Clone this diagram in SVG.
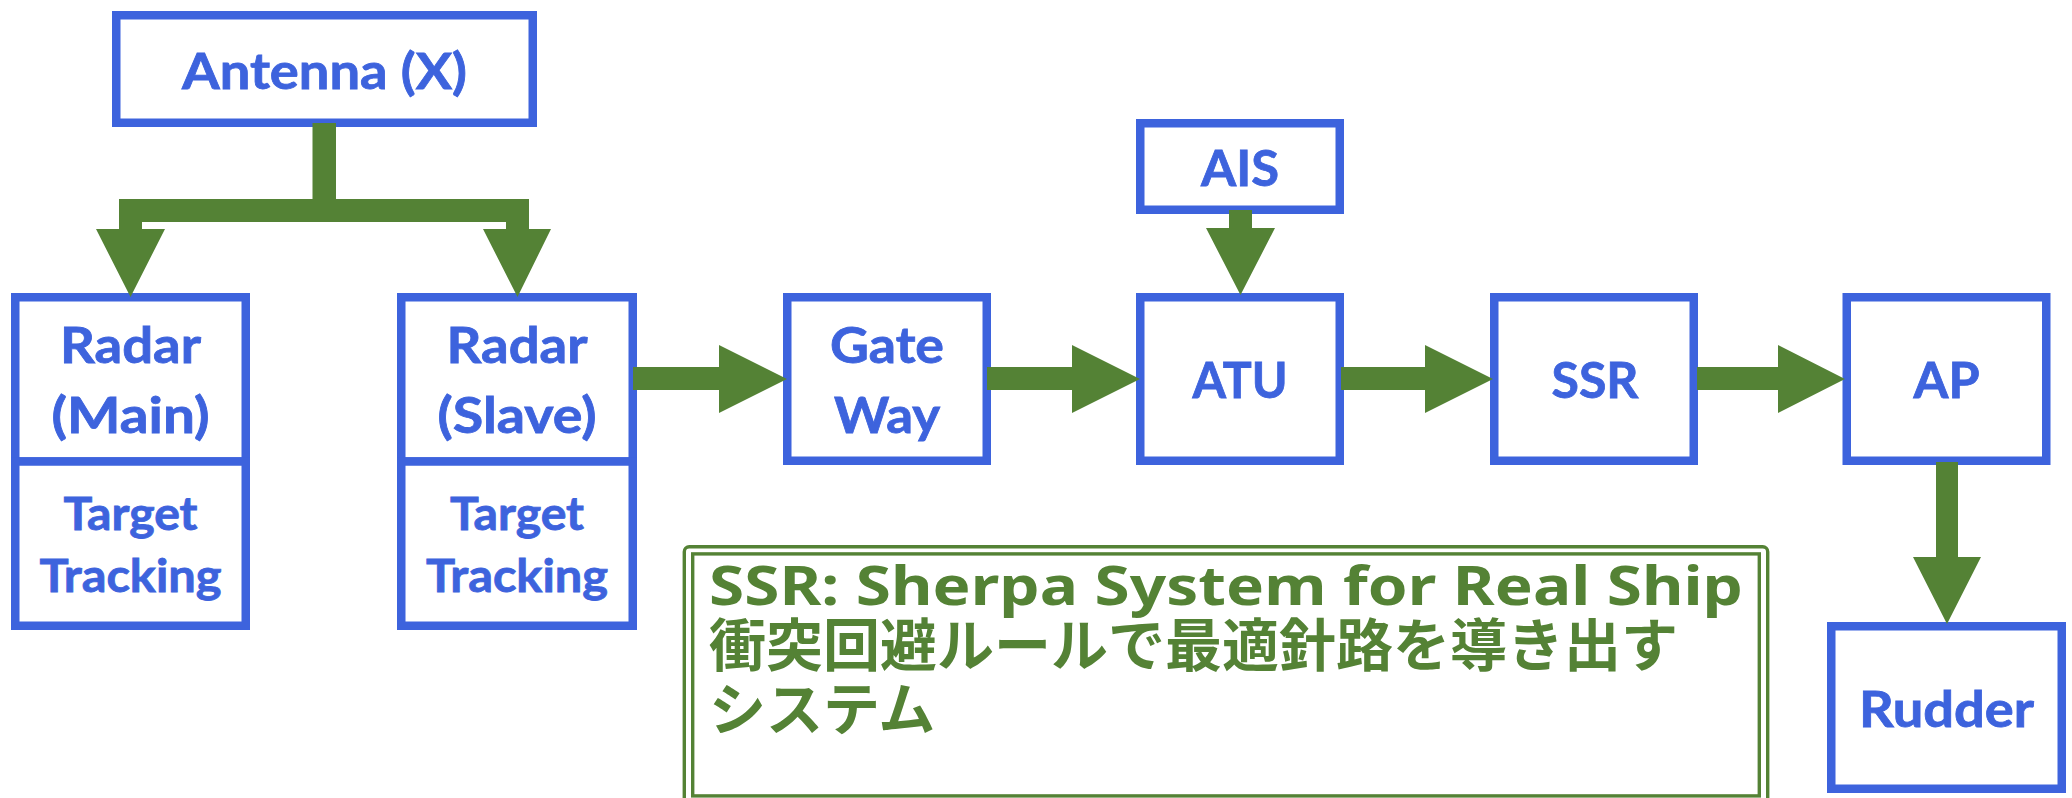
<svg xmlns="http://www.w3.org/2000/svg" width="2072" height="798" viewBox="0 0 2072 798">
  <style>
    .box { fill: #ffffff; stroke: #3D63DD; stroke-width: 8.5; }
    .lbl { fill: #3D63DD; stroke: #3D63DD; stroke-width: 0.8; font-family: Lato, "Open Sans", "Liberation Sans", sans-serif; font-weight: bold; font-size: 50px; text-anchor: middle; }
    .sub { font-size: 45px; }
    .flow { fill: #548235; stroke: none; }
    .note-frame { fill: none; stroke: #548235; stroke-width: 3.4; }
    .note-en { fill: #548235; font-family: "Noto Sans", "Open Sans", "Liberation Sans", sans-serif; font-weight: bold; font-size: 54px; }
    .note-ja { fill: #548235; font-family: "Noto Sans CJK JP", "Noto Sans", sans-serif; font-weight: bold; font-size: 57px; }
  </style>

  <!-- nodes -->
  <g id="antenna">
    <rect class="box" x="116.25" y="15.25" width="416.5" height="107.5"/>
    <text class="lbl" x="324.5" y="89" textLength="285" lengthAdjust="spacingAndGlyphs">Antenna (X)</text>
  </g>

  <g id="radar-main">
    <rect class="box" x="15.25" y="297.25" width="230.5" height="164.25"/>
    <rect class="box" x="15.25" y="461.5" width="230.5" height="164.25"/>
    <text class="lbl" x="130.5" y="363" textLength="141" lengthAdjust="spacingAndGlyphs">Radar</text>
    <text class="lbl" x="130.5" y="433" textLength="158" lengthAdjust="spacingAndGlyphs">(Main)</text>
    <text class="lbl sub" x="130.5" y="530" textLength="134" lengthAdjust="spacingAndGlyphs">Target</text>
    <text class="lbl sub" x="130.5" y="592" textLength="182" lengthAdjust="spacingAndGlyphs">Tracking</text>
  </g>

  <g id="radar-slave">
    <rect class="box" x="401.25" y="297.25" width="231.5" height="164.25"/>
    <rect class="box" x="401.25" y="461.5" width="231.5" height="164.25"/>
    <text class="lbl" x="517" y="363" textLength="141" lengthAdjust="spacingAndGlyphs">Radar</text>
    <text class="lbl" x="517" y="433" textLength="159" lengthAdjust="spacingAndGlyphs">(Slave)</text>
    <text class="lbl sub" x="517" y="530" textLength="134" lengthAdjust="spacingAndGlyphs">Target</text>
    <text class="lbl sub" x="517" y="592" textLength="182" lengthAdjust="spacingAndGlyphs">Tracking</text>
  </g>

  <g id="gateway">
    <rect class="box" x="787.25" y="297.25" width="199.5" height="163.5"/>
    <text class="lbl" x="887" y="363" textLength="114" lengthAdjust="spacingAndGlyphs">Gate</text>
    <text class="lbl" x="887" y="433" textLength="106" lengthAdjust="spacingAndGlyphs">Way</text>
  </g>

  <g id="ais">
    <rect class="box" x="1140.25" y="123.25" width="199.5" height="86.5"/>
    <text class="lbl" x="1240" y="186" textLength="78" lengthAdjust="spacingAndGlyphs">AIS</text>
  </g>

  <g id="atu">
    <rect class="box" x="1140.25" y="297.25" width="199.5" height="163.5"/>
    <text class="lbl" x="1240" y="398" textLength="95" lengthAdjust="spacingAndGlyphs">ATU</text>
  </g>

  <g id="ssr">
    <rect class="box" x="1494.25" y="297.25" width="199.5" height="163.5"/>
    <text class="lbl" x="1595" y="398" textLength="87" lengthAdjust="spacingAndGlyphs">SSR</text>
  </g>

  <g id="ap">
    <rect class="box" x="1846.75" y="297.25" width="199.5" height="163.5"/>
    <text class="lbl" x="1946.5" y="398" textLength="66" lengthAdjust="spacingAndGlyphs">AP</text>
  </g>

  <g id="rudder">
    <rect class="box" x="1831.25" y="626.25" width="230.5" height="162.5"/>
    <text class="lbl" x="1946.5" y="727" textLength="175" lengthAdjust="spacingAndGlyphs">Rudder</text>
  </g>

  <!-- note box with double frame -->
  <g id="ssr-note">
    <rect class="note-frame" x="684.3" y="546.7" width="1083.4" height="270" rx="5"/>
    <rect class="note-frame" x="692.7" y="553.9" width="1066.6" height="242"/>
    <text class="note-en" x="709" y="605" textLength="1034" lengthAdjust="spacingAndGlyphs">SSR: Sherpa System for Real Ship</text>
    <text class="note-ja" x="709" y="666">衝突回避ルールで最適針路を導き出す</text>
    <text class="note-ja" x="709" y="730">システム</text>
  </g>

  <!-- connectors: block arrows -->
  <g id="connectors">
    <path class="flow" d="M312.5,123 H336 V199 H529 V229 H551 L517.5,297 L483,229 H506 V222 H142 V229 H165 L130.5,297 L96,229 H119 V199 H312.5 Z"/>
    <path class="flow" d="M633,367 H719 V345 L787,379 L719,413 V390 H633 Z"/>
    <path class="flow" d="M987,367 H1072 V345 L1140,379 L1072,413 V390 H987 Z"/>
    <path class="flow" d="M1229,210 H1252 V228 H1275 L1240.5,295 L1206,228 H1229 Z"/>
    <path class="flow" d="M1341,367 H1425 V345 L1493,379 L1425,413 V390 H1341 Z"/>
    <path class="flow" d="M1697,367 H1778 V345 L1845,379 L1778,413 V390 H1697 Z"/>
    <path class="flow" d="M1936,462 H1958 V557 H1981 L1947,624 L1913,557 H1936 Z"/>
  </g>
</svg>
